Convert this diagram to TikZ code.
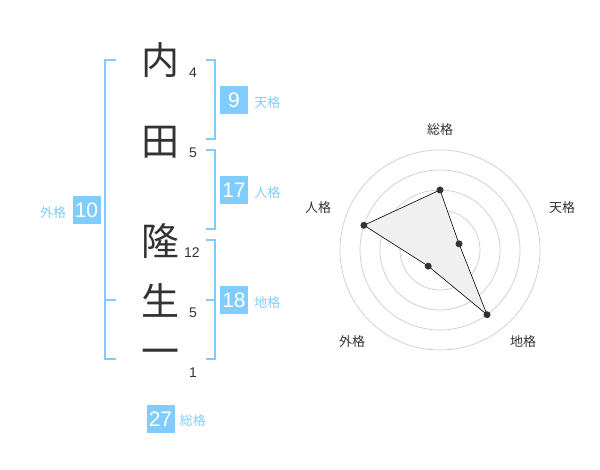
\documentclass[tikz,border=0pt]{standalone}
\usepackage{fontspec}
\setmainfont{Liberation Sans}
\newfontfamily\cjk{Noto Sans CJK JP}
\usetikzlibrary{positioning}
\definecolor{kakublue}{HTML}{80CCFF}
\definecolor{inkgray}{HTML}{333333}
\definecolor{ringgray}{HTML}{CCCCCC}
\definecolor{areagray}{HTML}{F0F0F0}

\begin{document}
\begin{tikzpicture}[x=1pt, y=1pt,
    kanji/.style={inner sep=0pt, text=inkgray, font=\cjk\fontsize{38}{38}\selectfont},
    strokes/.style={inner sep=0pt, text=inkgray, font=\fontsize{14}{14}\selectfont},
    kakubox/.style={fill=kakublue, text=white, minimum width=28pt, minimum height=28pt, inner sep=0pt, font=\fontsize{21}{21}\selectfont},
    kakulabel/.style={inner sep=0pt, text=kakublue, font=\cjk\fontsize{13}{13}\selectfont},
    bracket/.style={draw=kakublue, line width=2pt},
    ring/.style={draw=ringgray, line width=0.7pt},
    axislabel/.style={inner sep=0pt, text=inkgray, font=\cjk\fontsize{13}{13}\selectfont},
    point/.style={circle, fill=inkgray, inner sep=0pt, minimum size=7pt}]

\useasboundingbox (0,0) rectangle (600,470);

% Name
\node [kanji] (uchi) at (160,410) {内};
\node [kanji] (ta) at (160,328) {田};
\node [kanji] (taka) at (160,229) {隆};
\node [kanji] (sei) at (160,170) {生};
\node [kanji] (ichi) at (160,113) {一};

% Strokes
\node [strokes] (n1) at (193,397) {4};
\node [strokes] (n2) at (193,317) {5};
\node [strokes] (n3) at (192,217) {12};
\node [strokes] (n4) at (193,157) {5};
\node [strokes] (n5) at (193,97) {1};

% Brackets
\draw [bracket] (206,410) -- (215,410) -- (215,331) -- (206,331);
\draw [bracket] (206,320) -- (215,320) -- (215,241) -- (206,241);
\draw [bracket] (206,230) -- (215,230) -- (215,111) -- (206,111);
\draw [bracket] (206,170) -- (215,170);
\draw [bracket] (116,410) -- (105,410) -- (105,111) -- (116,111);
\draw [bracket] (105,170) -- (116,170);

% Values
\node [kakubox] (ten) at (234,370) {9};
\node [kakulabel, right=6pt of ten, yshift=-3pt] (tenl) {天格};
\node [kakubox] (jin) at (234,280) {17};
\node [kakulabel, right=6pt of jin, yshift=-3pt] (jinl) {人格};
\node [kakubox] (chi) at (234,170) {18};
\node [kakulabel, right=6pt of chi, yshift=-3pt] (chil) {地格};
\node [kakubox] (gai) at (86.5,260) {10};
\node [kakulabel, left=6pt of gai, yshift=-3pt] (gail) {外格};
\node [kakubox] (sou) at (160.5,51) {27};
\node [kakulabel, right=5pt of sou, yshift=-2pt] (soul) {総格};

% Radar
\coordinate (c) at (440,220);
\foreach \r in {20,40,60,80,100}
  \draw [ring] (c) circle (\r);
\fill [ringgray] (c) circle (3.5);

\node [axislabel] (lsou) at ([shift={(0,120)}]c) {総格};
\node [axislabel] (lten) at ([shift={(122,42)}]c) {天格};
\node [axislabel] (lchi) at ([shift={(83,-92)}]c) {地格};
\node [axislabel] (lgai) at ([shift={(-88,-92)}]c) {外格};
\node [axislabel] (ljin) at ([shift={(-122,42)}]c) {人格};

\coordinate (psou) at ([shift={(90:60)}]c);
\coordinate (pten) at ([shift={(18:20)}]c);
\coordinate (pchi) at ([shift={(-54:80)}]c);
\coordinate (pgai) at ([shift={(-126:20)}]c);
\coordinate (pjin) at ([shift={(162:80)}]c);

\draw [fill=areagray, draw=black, line width=0.6pt] (psou) -- (pten) -- (pchi) -- (pgai) -- (pjin) -- cycle;
\foreach \p in {psou,pten,pchi,pgai,pjin}
  \node [point] at (\p) {};

\end{tikzpicture}
\end{document}
